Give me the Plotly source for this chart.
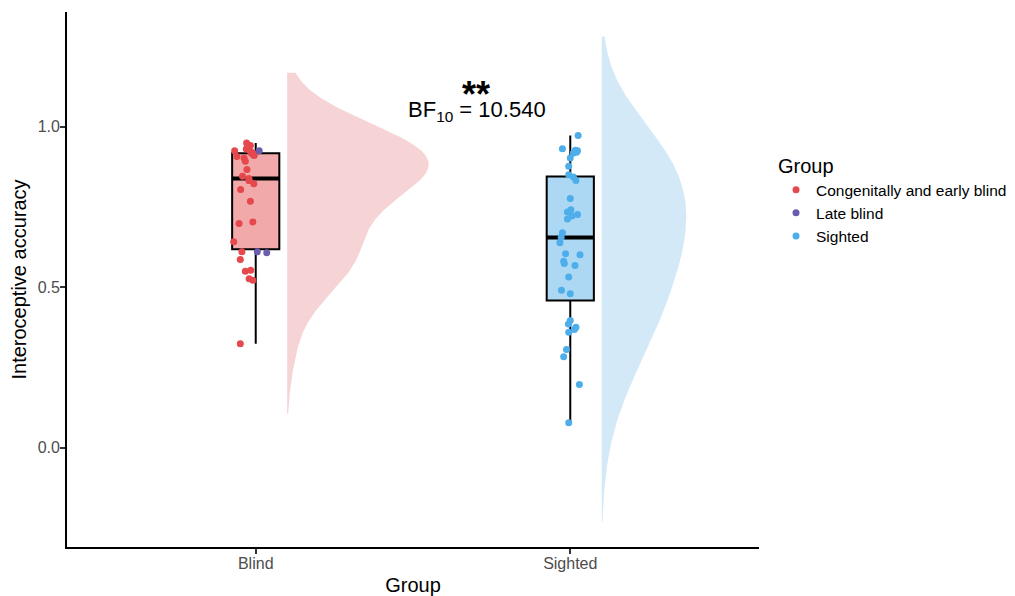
import numpy as np
import plotly.graph_objects as go

# ---------------- data ----------------
groups = ["Blind", "Sighted"]
legend_names = ["Congenitally and early blind", "Late blind", "Sighted"]

# Blind group, congenitally and early blind participants
cong_acc = [0.949, 0.941, 0.925, 0.928, 0.921, 0.910, 0.907, 0.902, 0.892,
            0.866, 0.845, 0.832, 0.822, 0.804, 0.767, 0.698, 0.703, 0.641,
            0.610, 0.586, 0.549, 0.552, 0.526, 0.521, 0.323,
            0.832, 0.915, 0.918, 0.930, 0.935, 0.912, 0.838]
cong_jitter = [-0.029, -0.017, -0.067, -0.021, -0.014, -0.005, -0.060, -0.037,
               -0.033, -0.028, -0.042, -0.021, -0.006, -0.048, -0.017, -0.053,
               -0.009, -0.070, -0.044, -0.049, -0.033, -0.016, -0.021, -0.009,
               -0.049, -0.021, -0.006, -0.015, -0.030, -0.025, -0.008, -0.022]

# Blind group, late blind participants
late_acc = [0.925, 0.610, 0.607]
late_jitter = [0.011, 0.005, 0.035]

# Sighted group
sighted_acc = [0.972, 0.931, 0.926, 0.925, 0.918, 0.902, 0.876, 0.850, 0.843,
               0.832, 0.776, 0.741, 0.734, 0.726, 0.721, 0.712, 0.669, 0.638,
               0.604, 0.601, 0.580, 0.573, 0.567, 0.531, 0.490, 0.479, 0.396,
               0.385, 0.375, 0.368, 0.359, 0.305, 0.283, 0.196, 0.077, 0.920,
               0.654]
sighted_jitter = [0.025, -0.025, 0.016, 0.023, 0.010, 0.0, -0.005, -0.005,
                  0.010, 0.018, 0.0, 0.002, -0.009, 0.023, 0.005, -0.009,
                  -0.025, -0.033, -0.015, 0.031, -0.021, -0.019, 0.015, -0.005,
                  -0.028, 0.0, 0.0, -0.006, 0.018, 0.013, -0.005, -0.012,
                  -0.021, 0.029, -0.005, 0.020, -0.029]

y_ticks = [0.0, 0.5, 1.0]
stars_text = "<b>**</b>"
bf_text = "BF<sub>10</sub> = 10.540"

# ---------------- styling ----------------
FONT = "Liberation Sans, Arial, Helvetica, sans-serif"
RED = "#E5484D"
PURPLE = "#6B5CB0"
BLUE = "#4DAEEA"
BOX_FILL = ["#F1A9AA", "#ADD8F3"]
VIOLIN_FILL = ["#F6D3D4", "#D4E9F8"]
NUDGE = 0.1
VIOLIN_HALF = 0.45
BOX_W = 0.15
BW_ADJUST = 1.5
CUT = 2

blind_all = np.array(cong_acc + late_acc)
sighted_all = np.array(sighted_acc)
group_data = [blind_all, sighted_all]
group_pos = [1, 2]


def bw_nrd0(x):
    hi = np.std(x, ddof=1)
    q75, q25 = np.percentile(x, [75, 25])
    lo = min(hi, (q75 - q25) / 1.34)
    return 0.9 * lo * len(x) ** -0.2


def kde(x):
    bw = bw_nrd0(x) * BW_ADJUST
    grid = np.linspace(x.min() - CUT * bw, x.max() + CUT * bw, 512)
    z = (grid[:, None] - x[None, :]) / bw
    d = np.exp(-0.5 * z ** 2).sum(axis=1) / (len(x) * bw * np.sqrt(2 * np.pi))
    return grid, d


dens = [kde(x) for x in group_data]
dmax = max(d.max() for _, d in dens)

fig = go.Figure()

# half violins
for pos, (grid, d), col in zip(group_pos, dens, VIOLIN_FILL):
    base = pos + NUDGE
    xs = np.concatenate([base + d / dmax * VIOLIN_HALF, [base, base]])
    ys = np.concatenate([grid, [grid[-1], grid[0]]])
    fig.add_trace(go.Scatter(x=xs, y=ys, mode="lines", fill="toself",
                             fillcolor=col, line=dict(width=0),
                             hoverinfo="skip", showlegend=False))

# boxes
for pos, x, col in zip(group_pos, group_data, BOX_FILL):
    fig.add_trace(go.Box(x=[pos] * len(x), y=x, width=BOX_W, boxpoints=False,
                         fillcolor=col, line=dict(color="black", width=2),
                         whiskerwidth=0, quartilemethod="linear",
                         showlegend=False))
    med = float(np.median(x))
    fig.add_trace(go.Scatter(x=[pos - BOX_W / 2, pos + BOX_W / 2], y=[med, med],
                             mode="lines", line=dict(color="black", width=4),
                             hoverinfo="skip", showlegend=False))

# points
pts = [
    (legend_names[0], 1, cong_acc, cong_jitter, RED),
    (legend_names[1], 1, late_acc, late_jitter, PURPLE),
    (legend_names[2], 2, sighted_acc, sighted_jitter, BLUE),
]
for name, pos, acc, jit, col in pts:
    fig.add_trace(go.Scatter(x=[pos + j for j in jit], y=acc, mode="markers",
                             name=name, marker=dict(color=col, size=7)))

fig.add_annotation(x=1.70, y=1.10, xref="x", yref="y", text=stars_text,
                   showarrow=False, font=dict(family=FONT, size=36, color="black"))
fig.add_annotation(x=1.705, y=1.05, xref="x", yref="y", text=bf_text,
                   showarrow=False, font=dict(family=FONT, size=22, color="black"))

# the page body adds an 8px offset, so the figure is 8px smaller than the window
fig.update_layout(
    width=1007, height=588,
    margin=dict(l=59, r=256, t=4, b=49, autoexpand=False),
    paper_bgcolor="white", plot_bgcolor="white",
    font=dict(family=FONT, color="black"),
    legend=dict(title=dict(text="Group", font=dict(size=20)),
                font=dict(size=15.5), x=1.0246, y=0.7475,
                xanchor="left", yanchor="top", bgcolor="rgba(0,0,0,0)"),
)
fig.update_xaxes(range=[0.4, 2.6], tickvals=group_pos, ticktext=groups,
                 showgrid=False, zeroline=False, showline=True,
                 linecolor="black", linewidth=1.8, ticks="outside", ticklen=5,
                 tickwidth=1.5, tickcolor="#333333", automargin=False,
                 ticklabelstandoff=-4,
                 tickfont=dict(size=16, color="#4D4D4D"),
                 title=dict(text="Group", font=dict(size=20), standoff=12))
fig.update_yaxes(range=[-0.31, 1.357], tickvals=y_ticks, tickformat=".1f",
                 showgrid=False, zeroline=False, showline=True,
                 linecolor="black", linewidth=1.8, ticks="outside", ticklen=5,
                 tickwidth=1.5, tickcolor="#333333", automargin=False,
                 ticklabelstandoff=-3,
                 tickfont=dict(size=16, color="#4D4D4D"),
                 title=dict(text="Interoceptive accuracy", font=dict(size=20),
                            standoff=6))

fig.write_html("out.html")
